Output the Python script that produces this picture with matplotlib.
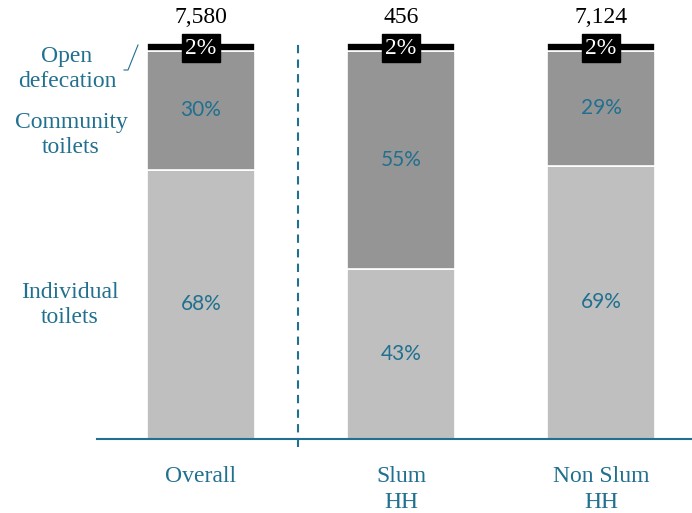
import numpy as np
import matplotlib.pyplot as plt

# toilet access by household type (percent of households)
groups     = ["Overall", "Slum\nHH", "Non Slum\nHH"]
totals     = ["7,580", "456", "7,124"]
individual = [68, 43, 69]
community  = [30, 55, 29]
open_def   = [2, 2, 2]

TEAL  = "#21708f"
LIGHT = "#bfbfbf"
DARK  = "#959595"
SERIF = "Liberation Serif"
SANS  = "Lato"

fig = plt.figure(figsize=(6.92, 5.13), dpi=100)
ax = fig.add_axes([97 / 692, 1 - 439 / 513, 595 / 692, 435.6 / 513])

x = np.arange(len(groups))
w = 0.54
ind = np.array(individual)
com = np.array(community)
opn = np.array(open_def)

ax.bar(x, ind, w, color=LIGHT, edgecolor="white", linewidth=1.2)
ax.bar(x, com, w, bottom=ind, color=DARK, edgecolor="white", linewidth=1.2)
ax.bar(x, opn, w, bottom=ind + com, color="black", edgecolor="white", linewidth=1.2)

for i in range(len(groups)):
    ax.text(x[i], ind[i] / 2, f"{ind[i]}%", ha="center", va="center",
            color=TEAL, fontsize=15, family=SANS)
    ax.text(x[i], ind[i] + com[i] / 2, f"{com[i]}%", ha="center", va="center",
            color=TEAL, fontsize=15, family=SANS)
    top = ind[i] + com[i] + opn[i]
    ax.text(x[i], top - opn[i] / 2 - 0.3, f"{opn[i]}%", ha="center", va="center",
            color="white", fontsize=17, family=SERIF,
            bbox=dict(boxstyle="square,pad=0.16", fc="black", ec="black"))
    ax.text(x[i], top + 3.9, totals[i], ha="center", va="bottom",
            color="black", fontsize=17, family=SERIF)

# group names under the baseline
for i, g in enumerate(groups):
    ax.text(x[i], -6.8, g, ha="center", va="top", color=TEAL, fontsize=17,
            family=SERIF, linespacing=1.3)

# segment names on the left
left_labels = [("Open\ndefecation", 67, 69),
               ("Community\ntoilets", 71, 135),
               ("Individual\ntoilets", 70, 305)]
for txt, px, py in left_labels:
    fig.text(px / 692, 1 - py / 513, txt, ha="center", va="center",
             color=TEAL, fontsize=17, family=SERIF, linespacing=1.3)
fig.add_artist(plt.Line2D([124 / 692, 128 / 692, 138 / 692],
                          [1 - 70 / 513, 1 - 70 / 513, 1 - 45 / 513],
                          color=TEAL, linewidth=0.8))

# separator between overall and the split
ax.plot([0.485, 0.485], [-2, 100], color=TEAL, linestyle=(0, (4, 3)),
        linewidth=1.5, clip_on=False)

ax.set_xlim(-0.52, 2.455)
ax.set_ylim(0, 110)
for s in ["top", "right", "left"]:
    ax.spines[s].set_visible(False)
ax.spines["bottom"].set_color(TEAL)
ax.spines["bottom"].set_linewidth(1.5)
ax.set_xticks([])
ax.set_yticks([])

fig.savefig("out.png", dpi=100)
